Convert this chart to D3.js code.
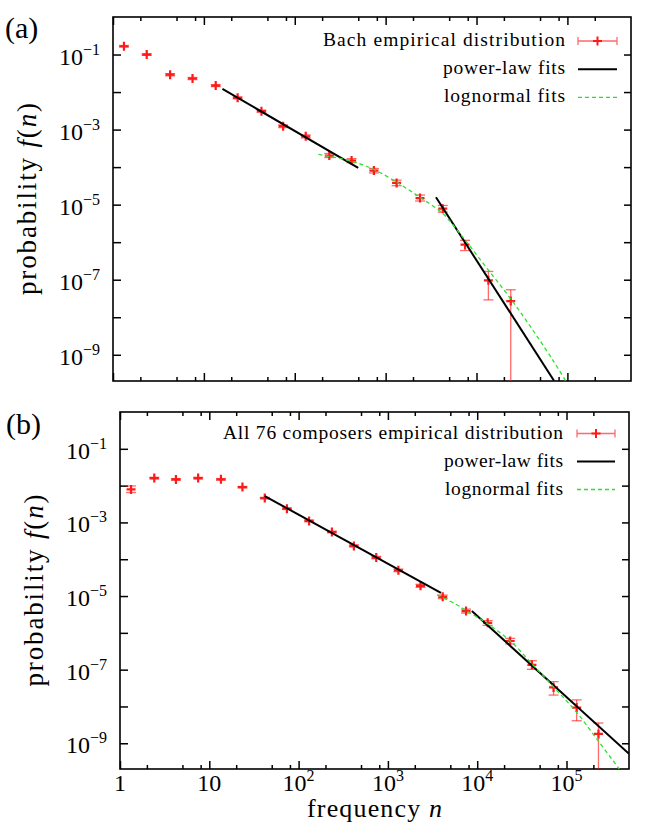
<!DOCTYPE html>
<html><head><meta charset="utf-8">
<script src="https://cdn.jsdelivr.net/npm/d3@7"></script>
<style>
body{margin:0;background:#fff}
svg text{font-family:"Liberation Serif","DejaVu Serif","Times New Roman",Times,serif;fill:#000}
</style>
</head><body>
<svg id="c" width="646" height="838" font-family="Liberation Serif, DejaVu Serif, serif"></svg>
<script>
// ---------- axes ----------
const xDomain = [1, 5.01e5];
const yDomain = [2e-10, 1];
const xMajorTicks = [1, 10, 100, 1e3, 1e4, 1e5];
const xMajorBase = ["1", "10", "10", "10", "10", "10"];
const xMajorExp = ["", "", "2", "3", "4", "5"];
const xMinorTicks = [2,5,8,20,50,80,200,500,800,2e3,5e3,8e3,2e4,5e4,8e4,2e5];
const yTicks = [1e-1,1e-2,1e-3,1e-4,1e-5,1e-6,1e-7,1e-8,1e-9];
const yLabelTicks = [1e-1,1e-3,1e-5,1e-7,1e-9];
const yLabelExp = ["\u22121","\u22123","\u22125","\u22127","\u22129"];

// ---------- (a) Bach ----------
const bachN  = [1.32,2.35,4.25,7.5,13.5,23.5,43,74.5,132,240,422,743,1320,2390,4250,7470,13500,23800];
const bachP  = [0.166,0.1,0.029,0.023,0.0149,0.0070,0.0031,0.00123,0.00066,2.03e-4,1.49e-4,8.07e-5,3.8e-5,1.5e-5,7.8e-6,8.6e-7,9.6e-8,2.7e-8];
const bachLo = [0.158,0.095,0.027,0.0215,0.014,0.0066,0.0029,0.00113,0.0006,1.8e-4,1.32e-4,7.0e-5,3.2e-5,1.25e-5,6.3e-6,6.0e-7,2.9e-8,0];
const bachHi = [0.174,0.105,0.031,0.0245,0.0158,0.0074,0.0033,0.00133,0.00072,2.3e-4,1.68e-4,9.2e-5,4.5e-5,1.8e-5,9.5e-6,1.12e-6,1.66e-7,5.4e-8];
const bachPL1N = [16, 499];      const bachPL1P = [0.01216, 9.53e-5];
const bachPL2N = [3580, 71300];  const bachPL2P = [1.57e-5, 2.03e-10];
const bachLNN = [182,417,741,1318,1862,2399,4266,7244,12882,23442,42658,70795,95499];
const bachLNP = [2.19e-4,1.45e-4,8.71e-5,3.98e-5,2.34e-5,1.55e-5,5.75e-6,1.26e-6,2.09e-7,3.24e-8,4.17e-9,6.6e-10,2.04e-10];

// ---------- (b) all 76 composers ----------
const allN  = [1.33,2.42,4.23,7.5,13.5,23.5,41.8,74,131,236,416,740,1310,2317,4110,7500,13100,23400,41000,71600,130000,228000];
const allP  = [0.0079,0.016,0.0147,0.016,0.0148,0.0091,0.0046,0.00236,0.0011,5.5e-4,2.3e-4,1.11e-4,5.0e-5,1.9e-5,9.5e-6,3.9e-6,1.87e-6,6.0e-7,1.35e-7,3.3e-8,9.3e-9,1.8e-9];
const allLo = [0.0065,0.0152,0.014,0.0152,0.0141,0.0087,0.0044,0.00225,0.00104,5.2e-4,2.15e-4,1.03e-4,4.6e-5,1.72e-5,8.5e-6,3.45e-6,1.6e-6,5.0e-7,1.02e-7,2.04e-8,4.1e-9,0];
const allHi = [0.0098,0.0168,0.0155,0.0168,0.0155,0.0095,0.0048,0.00247,0.00116,5.8e-4,2.45e-4,1.19e-4,5.4e-5,2.08e-5,1.06e-5,4.4e-6,2.15e-6,7.1e-7,1.75e-7,4.73e-8,1.51e-8,3.55e-9];
const allPL1N = [41.8, 3926];    const allPL1P = [5.2e-3, 1.22e-5];
const allPL2N = [8710, 501000];  const allPL2P = [3.9e-6, 5.2e-10];
const allLNN = [3548,5754,7586,13183,23442,41687,72444,131826,229087,389045];
const allLNP = [1.07e-5,6.03e-6,3.98e-6,1.74e-6,6.03e-7,1.38e-7,3.31e-8,6.6e-9,1.12e-9,2.0e-10];

const legendA = ["Bach empirical distribution","power-law fits","lognormal fits"];
const legendB = ["All 76 composers empirical distribution","power-law fits","lognormal fits"];

const RED = "#ff1a1a", GREEN = "#2ee02e";
const FONT = "Liberation Serif, DejaVu Serif, serif";
const svg = d3.select("#c");

function panel(cfg) {
  const b = cfg.box;
  const g = svg.append("g").attr("font-family", FONT);
  const x = d3.scaleLog().domain(xDomain).range([b.l, b.r]);
  const y = d3.scaleLog().domain(yDomain).range([b.b, b.t]);
  const cid = "clip" + cfg.id;
  svg.append("clipPath").attr("id", cid).append("rect")
    .attr("x", b.l).attr("y", b.t).attr("width", b.r - b.l).attr("height", b.b - b.t);

  function axis(gen, tx, ty) {
    const a = g.append("g").attr("transform", `translate(${tx},${ty})`).call(gen);
    a.select(".domain").remove();
    a.selectAll("line").attr("stroke", "#000").attr("stroke-width", 1.5);
    a.selectAll("text").remove();
  }
  axis(d3.axisBottom(x).tickValues(xMajorTicks).tickSize(-8).tickFormat(""), 0, b.b);
  axis(d3.axisBottom(x).tickValues(xMinorTicks).tickSize(-4).tickFormat(""), 0, b.b);
  axis(d3.axisTop(x).tickValues(xMajorTicks).tickSize(-8).tickFormat(""), 0, b.t);
  axis(d3.axisTop(x).tickValues(xMinorTicks).tickSize(-4).tickFormat(""), 0, b.t);
  axis(d3.axisLeft(y).tickValues(yTicks).tickSize(-8).tickFormat(""), b.l, 0);
  axis(d3.axisRight(y).tickValues(yTicks).tickSize(-7).tickFormat(""), b.r, 0);

  // y labels
  yLabelTicks.forEach((v, i) => {
    const t = g.append("text").attr("x", b.l - 13).attr("y", y(v) + 10)
      .attr("text-anchor", "end").attr("font-size", 24).attr("font-family", FONT);
    t.append("tspan").text("10");
    t.append("tspan").attr("dy", -10).attr("font-size", 16).text(yLabelExp[i]);
  });
  // x labels
  if (cfg.xLabels) {
    xMajorTicks.forEach((v, i) => {
      const t = g.append("text").attr("x", x(v)).attr("y", b.b + 22)
        .attr("text-anchor", "middle").attr("font-size", 24).attr("font-family", FONT);
      t.append("tspan").text(xMajorBase[i]);
      if (xMajorExp[i]) t.append("tspan").attr("dy", -10).attr("font-size", 16).text(xMajorExp[i]);
    });
    const xt = g.append("text").attr("x", (b.l + b.r) / 2).attr("y", b.b + 48)
      .attr("text-anchor", "middle").attr("font-size", 26).attr("font-family", FONT)
      .attr("textLength", 135).attr("lengthAdjust", "spacing");
    xt.append("tspan").text("frequency ");
    xt.append("tspan").attr("font-style", "italic").text("n");
  }
  // y title
  const cy = (b.t + b.b) / 2;
  const yt = g.append("text").attr("transform", `translate(${cfg.ytx},${cy}) rotate(-90)`)
    .attr("text-anchor", "middle").attr("font-size", 27).attr("font-family", FONT)
    .attr("textLength", 192).attr("lengthAdjust", "spacing");
  yt.append("tspan").text("probability ");
  yt.append("tspan").attr("font-style", "italic").text("f");
  yt.append("tspan").text("(");
  yt.append("tspan").attr("font-style", "italic").text("n");
  yt.append("tspan").text(")");
  // panel label
  g.append("text").attr("x", cfg.labX).attr("y", cfg.labY).attr("font-size", 30)
    .attr("font-family", FONT).text(cfg.label);

  // frame
  g.append("rect").attr("x", b.l).attr("y", b.t).attr("width", b.r - b.l).attr("height", b.b - b.t)
    .attr("fill", "none").attr("stroke", "#000").attr("stroke-width", 1.6);

  const pg = g.append("g").attr("clip-path", `url(#${cid})`);
  // error bars
  cfg.N.forEach((n, i) => {
    const xi = x(n);
    const yHi = y(cfg.Hi[i]);
    const yLo = cfg.Lo[i] > 0 ? y(cfg.Lo[i]) : b.b + 10;
    pg.append("line").attr("x1", xi).attr("x2", xi).attr("y1", yHi).attr("y2", yLo)
      .attr("stroke", RED).attr("stroke-opacity", 0.65).attr("stroke-width", 1.3);
    const caps = cfg.Lo[i] > 0 ? [yHi, yLo] : [yHi];
    caps.forEach(cyv => pg.append("line").attr("x1", xi - 5).attr("x2", xi + 5).attr("y1", cyv).attr("y2", cyv)
      .attr("stroke", RED).attr("stroke-opacity", 0.65).attr("stroke-width", 1.3));
  });
  // markers
  cfg.N.forEach((n, i) => {
    const xi = x(n), yi = y(cfg.P[i]);
    pg.append("path").attr("d", `M${xi - 4.5},${yi}H${xi + 4.5}M${xi},${yi - 4.5}V${yi + 4.5}`)
      .attr("stroke", RED).attr("stroke-width", 2.2).attr("fill", "none");
  });
  const line = d3.line().x(d => x(d[0])).y(d => y(d[1]));
  cfg.pl.forEach(([ns, ps]) => {
    pg.append("path").attr("d", line(ns.map((n, i) => [n, ps[i]])))
      .attr("stroke", "#000").attr("stroke-width", 2).attr("fill", "none");
  });
  const cline = d3.line().x(d => x(d[0])).y(d => y(d[1])).curve(d3.curveCatmullRom);
  pg.append("path").attr("d", cline(cfg.lnN.map((n, i) => [n, cfg.lnP[i]])))
    .attr("stroke", GREEN).attr("stroke-width", 1.3).attr("stroke-dasharray", "4,3").attr("fill", "none");

  // legend
  const lg = g.append("g");
  cfg.legend.forEach((txt, i) => {
    const ly = cfg.leg.y + i * cfg.leg.dy;
    lg.append("text").attr("x", cfg.leg.tx).attr("y", ly + 5).attr("text-anchor", "end")
      .attr("font-size", 19.5).attr("font-family", FONT)
      .attr("textLength", cfg.leg.len[i]).attr("lengthAdjust", "spacing").text(txt);
    const x1 = cfg.leg.x1, x2 = cfg.leg.x2, xm = (x1 + x2) / 2;
    if (i === 0) {
      lg.append("path").attr("d", `M${x1},${ly}H${x2}M${x1},${ly - 4}V${ly + 4}M${x2},${ly - 4}V${ly + 4}`)
        .attr("stroke", RED).attr("stroke-opacity", 0.65).attr("stroke-width", 1.3).attr("fill", "none");
      lg.append("path").attr("d", `M${xm - 4.5},${ly}H${xm + 4.5}M${xm},${ly - 4.5}V${ly + 4.5}`)
        .attr("stroke", RED).attr("stroke-width", 2).attr("fill", "none");
    } else if (i === 1) {
      lg.append("line").attr("x1", x1).attr("x2", x2).attr("y1", ly).attr("y2", ly)
        .attr("stroke", "#000").attr("stroke-width", 2);
    } else {
      lg.append("line").attr("x1", x1).attr("x2", x2).attr("y1", ly).attr("y2", ly)
        .attr("stroke", GREEN).attr("stroke-width", 1.3).attr("stroke-dasharray", "4,3");
    }
  });
}

panel({
  id: "a", box: {l: 113, r: 631, t: 17, b: 381}, xLabels: false, ytx: 36, label: "(a)", labX: 5, labY: 38,
  N: bachN, P: bachP, Lo: bachLo, Hi: bachHi,
  pl: [[bachPL1N, bachPL1P], [bachPL2N, bachPL2P]], lnN: bachLNN, lnP: bachLNP,
  legend: legendA,
  leg: {tx: 565, y: 41, dy: 28.2, x1: 578, x2: 617, len: [242, 122, 121]}
});
panel({
  id: "b", box: {l: 120, r: 629, t: 412, b: 769}, xLabels: true, ytx: 43, label: "(b)", labX: 6, labY: 434,
  N: allN, P: allP, Lo: allLo, Hi: allHi,
  pl: [[allPL1N, allPL1P], [allPL2N, allPL2P]], lnN: allLNN, lnP: allLNP,
  legend: legendB,
  leg: {tx: 563, y: 433.5, dy: 28, x1: 577, x2: 615, len: [340, 119, 118]}
});
</script>
</body></html>
